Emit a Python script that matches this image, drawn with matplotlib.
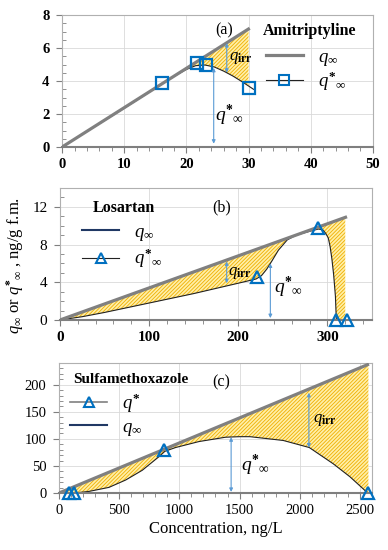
import numpy as np
import matplotlib
matplotlib.use("Agg")
import matplotlib.pyplot as plt
from matplotlib.lines import Line2D
from matplotlib.ticker import MultipleLocator

plt.rcParams['font.family'] = ['Liberation Serif', 'DejaVu Serif']
plt.rcParams['mathtext.fontset'] = 'custom'
plt.rcParams['mathtext.rm'] = 'Liberation Serif'
plt.rcParams['mathtext.it'] = 'Liberation Serif:italic'
plt.rcParams['mathtext.bf'] = 'Liberation Serif:bold'
plt.rcParams['hatch.linewidth'] = 0.6

# ---- (a) Amitriptyline ----
a_line_x = [0, 30.2]
a_line_y = [0, 7.2]
a_curve_x = [0, 10, 16, 18, 20, 21.5, 23, 24.5, 26, 27.5, 29, 30, 30.8]
a_curve_y = [0, 2.35, 3.8, 4.28, 4.7, 4.93, 4.97, 4.85, 4.6, 4.3, 3.95, 3.7, 3.5]
a_mark_x = [16, 21.7, 23.2, 30]
a_mark_y = [3.85, 5.1, 5.0, 3.6]

# ---- (b) Losartan ----
b_line_x = [0, 322]
b_line_y = [0, 10.95]
b_curve_x = [0, 25, 50, 100, 150, 200, 220, 226, 232, 238, 245, 255, 265, 280,
             290, 295, 298, 301, 303, 305, 307, 309, 310, 320]
b_curve_y = [0, 0.35, 0.8, 1.8, 2.8, 3.9, 4.35, 4.7, 5.4, 6.3, 7.4, 8.5, 9.0, 9.4,
             9.65, 9.55, 9.2, 8.7, 7.8, 6.5, 4.8, 2.5, 0, 0]
b_mark_x = [221, 289, 310, 322]
b_mark_y = [4.6, 9.75, 0, 0]

# ---- (c) Sulfamethoxazole ----
c_line_x = [0, 2575]
c_line_y = [0, 238]
c_curve_x = [0, 130, 250, 415, 554, 692, 830, 880, 969, 1163, 1384, 1500, 1586,
             1863, 2079, 2278, 2417, 2555, 2570]
c_curve_y = [0, 0, 3, 10.4, 24, 42, 67, 77, 84, 95, 103, 104, 104,
             97, 84, 54, 30, 2, 0]
c_mark_x = [80, 125, 875, 2570]
c_mark_y = [0, 0, 79, 0]

GRAY = '#808080'
BLUE = '#0070C0'
ARROW = '#5B9BD5'
NAVY = '#203864'
HATCH_FACE = '#FFEFA8'
HATCH_EDGE = '#EFAF00'

fig = plt.figure(figsize=(3.88, 5.5), dpi=100)
ax_a = fig.add_axes([0.160, 0.7327, 0.8008, 0.24])
ax_b = fig.add_axes([0.1546, 0.4182, 0.8041, 0.24])
ax_c = fig.add_axes([0.152, 0.1036, 0.8067, 0.2364])


def style_axes(ax, xmaj, xmin, ymaj, ymin, size, bold_x, bold_y):
    ax.xaxis.set_major_locator(MultipleLocator(xmaj))
    ax.xaxis.set_minor_locator(MultipleLocator(xmin))
    ax.yaxis.set_major_locator(MultipleLocator(ymaj))
    ax.yaxis.set_minor_locator(MultipleLocator(ymin))
    ax.grid(True, which='major', color='#d9d9d9', lw=0.6, zorder=0)
    ax.set_axisbelow(True)
    for s in ['top', 'right', 'left']:
        ax.spines[s].set_color('#b0b0b0')
        ax.spines[s].set_linewidth(0.8)
    ax.spines['bottom'].set_color('#7f7f7f')
    ax.spines['bottom'].set_linewidth(1.5)
    ax.tick_params(axis='x', which='major', direction='out', length=4, width=0.8,
                   color='#7f7f7f', labelsize=size, pad=4)
    ax.tick_params(axis='x', which='minor', direction='out', length=3, width=0.6,
                   color='#7f7f7f')
    ax.tick_params(axis='y', which='major', direction='out', length=4, width=0.8,
                   color='#7f7f7f', labelsize=size, pad=5)
    ax.tick_params(axis='y', which='minor', direction='in', length=3, width=0.6,
                   color='#7f7f7f')
    for lab in ax.get_xticklabels():
        lab.set_fontweight('bold' if bold_x else 'normal')
    for lab in ax.get_yticklabels():
        lab.set_fontweight('bold' if bold_y else 'normal')


def draw_panel(ax, lx, ly, cx, cy, mx, my, marker, fill_from):
    cx = np.array(cx, dtype=float)
    cy = np.array(cy, dtype=float)
    top = np.interp(cx, lx, ly)
    m = (cx >= fill_from) & (cx <= lx[-1])
    ax.fill_between(cx[m], cy[m], top[m], facecolor=HATCH_FACE, edgecolor=HATCH_EDGE,
                    hatch='/////////', lw=0, zorder=1)
    ax.plot(cx, cy, color='#222222', lw=0.8, zorder=2)
    ax.plot(lx, ly, color=GRAY, lw=2.3, zorder=3, solid_capstyle='butt')
    ax.plot(mx, my, linestyle='none', marker=marker, markersize=9, mfc='none',
            mec=BLUE, mew=1.6, zorder=4, clip_on=False)


def arrow(ax, x, y0, y1):
    ax.annotate('', xy=(x, y0), xytext=(x, y1),
                arrowprops=dict(arrowstyle='<|-|>', color=ARROW, lw=0.8,
                                mutation_scale=5, shrinkA=0, shrinkB=0), zorder=5)


QINF = r'$q_{\infty}$'
QSTAR = r'$q^{\mathbf{*}}{}_{\infty}$'
QIRR = r'$q_{\mathbf{irr}}$'

# ---- panel a ----
draw_panel(ax_a, a_line_x, a_line_y, a_curve_x, a_curve_y, a_mark_x, a_mark_y, 's', 17)
ax_a.set_xlim(0, 50)
ax_a.set_ylim(0, 8)
style_axes(ax_a, 10, 2, 2, 0.5, 10.5, True, True)
arrow(ax_a, 26.5, 4.5, 6.3)
arrow(ax_a, 24.4, 0.2, 4.8)
ax_a.text(26.9, 5.4, QIRR, fontsize=12, va='center')
ax_a.text(24.6, 1.9, QSTAR, fontsize=14, va='center')
ax_a.text(26.1, 7.05, '(a)', fontsize=11.5, ha='center', va='center')
ax_a.text(39.8, 7.05, 'Amitriptyline', fontsize=11.5, fontweight='bold',
          ha='center', va='center')
h_a = [Line2D([], [], color=GRAY, lw=2.3),
       Line2D([], [], color='#222222', lw=0.8, marker='s', markersize=7,
              mfc='none', mec=BLUE, mew=1.5)]
ax_a.legend(h_a, [QINF, QSTAR], loc='center left', bbox_to_anchor=(0.655, 0.578),
            frameon=False, fontsize=13.5, handlelength=2.0, handletextpad=0.8,
            borderpad=0, borderaxespad=0, labelspacing=0.1)

# ---- panel b ----
draw_panel(ax_b, b_line_x, b_line_y, b_curve_x, b_curve_y, b_mark_x, b_mark_y, '^', 0)
ax_b.set_xlim(0, 350)
ax_b.set_ylim(0, 14)
style_axes(ax_b, 100, 20, 4, 1, 11, True, False)
arrow(ax_b, 187, 3.9, 6.2)
arrow(ax_b, 236, 0.2, 6.0)
ax_b.text(189, 5.0, QIRR, fontsize=12, va='center')
ax_b.text(240, 3.5, QSTAR, fontsize=14, va='center')
ax_b.text(181, 11.9, '(b)', fontsize=11.5, ha='center', va='center')
ax_b.text(72, 11.9, 'Losartan', fontsize=11.5, fontweight='bold', ha='center', va='center')
h_b = [Line2D([], [], color=NAVY, lw=1.5),
       Line2D([], [], color='#222222', lw=0.8, marker='^', markersize=7,
              mfc='none', mec=BLUE, mew=1.5)]
ax_b.legend(h_b, [QINF, QSTAR], loc='center left', bbox_to_anchor=(0.07, 0.553),
            frameon=False, fontsize=13.5, handlelength=2.0, handletextpad=0.8,
            borderpad=0, borderaxespad=0, labelspacing=0.2)

# ---- panel c ----
draw_panel(ax_c, c_line_x, c_line_y, c_curve_x, c_curve_y, c_mark_x, c_mark_y, '^', 0)
ax_c.set_xlim(0, 2600)
ax_c.set_ylim(0, 240)
style_axes(ax_c, 500, 100, 50, 10, 10.5, False, False)
arrow(ax_c, 2076, 84, 185)
arrow(ax_c, 1430, 2, 103)
ax_c.text(2110, 135, QIRR, fontsize=12, va='center')
ax_c.text(1510, 51, QSTAR, fontsize=14, va='center')
ax_c.text(1350, 204, '(c)', fontsize=11.5, ha='center', va='center')
ax_c.text(600, 210, 'Sulfamethoxazole', fontsize=11, fontweight='bold',
          ha='center', va='center')
h_c = [Line2D([], [], color=GRAY, lw=1.2, marker='^', markersize=7,
              mfc='none', mec=BLUE, mew=1.5),
       Line2D([], [], color=NAVY, lw=1.5)]
ax_c.legend(h_c, [r'$q^{\mathbf{*}}$', QINF], loc='center left',
            bbox_to_anchor=(0.035, 0.604), frameon=False, fontsize=13.5,
            handlelength=2.0, handletextpad=0.8, borderpad=0, borderaxespad=0,
            labelspacing=0.2)
ax_c.set_xlabel('Concentration, ng/L', fontsize=12, labelpad=3)

fig.text(0.04, 0.518, r'$q_{\infty}$ or $q^{\mathbf{*}}{}_{\infty}$ , ng/g f.m.', rotation=90,
         fontsize=12, ha='center', va='center')

fig.savefig('out.png', dpi=100)
